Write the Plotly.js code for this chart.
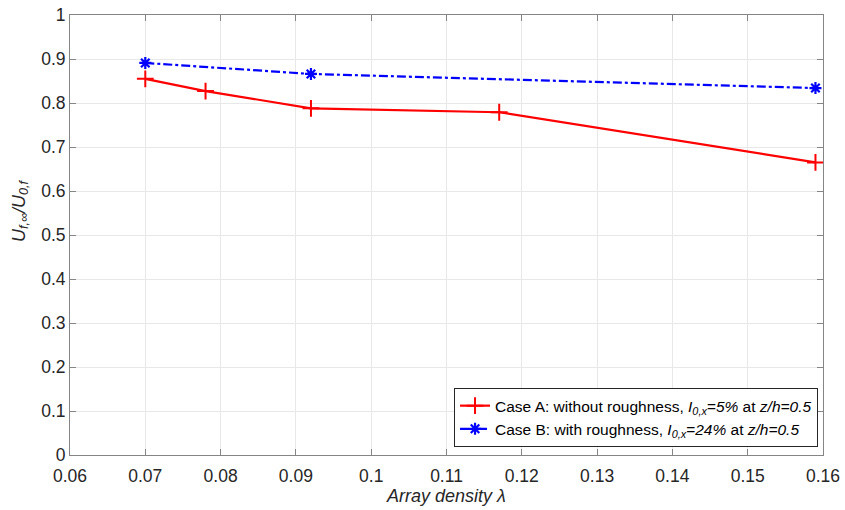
<!DOCTYPE html>
<html>
<head>
<meta charset="utf-8">
<script src="https://cdn.plot.ly/plotly-3.0.1.min.js"></script>
<style>html,body{margin:0;padding:0;background:#fff;}#chart{width:845px;height:510px;}</style>
</head>
<body>
<div id="chart"></div>
<script>
const xA = [0.070, 0.078, 0.092, 0.117, 0.159];
const yA = [0.855, 0.827, 0.788, 0.779, 0.665];
const xB = [0.070, 0.092, 0.159];
const yB = [0.891, 0.866, 0.834];
const nameA = 'Case A: without roughness, <i>I</i><sub><i>0,x</i></sub><i>=5%</i> at <i>z/h=0.5</i>';
const nameB = 'Case B: with roughness, <i>I</i><sub><i>0,x</i></sub><i>=24%</i> at <i>z/h=0.5</i>';
const xTitle = '<i>Array density λ</i>';
const yTitle = '<i>U</i><sub><i>f,∞</i></sub><i>/U</i><sub><i>0,f</i></sub>';
const xTicks = [0.06,0.07,0.08,0.09,0.1,0.11,0.12,0.13,0.14,0.15,0.16];
const xTickText = ['0.06','0.07','0.08','0.09','0.1','0.11','0.12','0.13','0.14','0.15','0.16'];
const yTicks = [0,0.1,0.2,0.3,0.4,0.5,0.6,0.7,0.8,0.9,1];
const yTickText = ['0','0.1','0.2','0.3','0.4','0.5','0.6','0.7','0.8','0.9','1'];

const FONT = 'Liberation Sans, Arial, sans-serif';
const traces = [
  {x: xA, y: yA, name: nameA, mode: 'lines+markers',
   line: {color: '#ff0000', width: 2.2},
   marker: {symbol: 'cross-thin-open', size: 12, color: '#ff0000', line: {color: '#ff0000', width: 2}}},
  {x: xB, y: yB, name: nameB, mode: 'lines+markers',
   line: {color: '#0000ff', width: 2.2, dash: 'dashdot'},
   marker: {symbol: 'asterisk-open', size: 10, color: '#0000ff', line: {color: '#0000ff', width: 2.2}}}
];
const axisCommon = {
  showline: true, linecolor: '#858585', linewidth: 1, mirror: 'ticks',
  ticks: 'inside', ticklen: 6, tickcolor: '#858585',
  showgrid: true, gridcolor: '#e8e8e8', gridwidth: 1, zeroline: false,
  tickfont: {family: FONT, size: 17.5, color: '#262626'}
};
const layout = {
  width: 845, height: 510,
  margin: {l: 70, r: 22, t: 15, b: 55},
  paper_bgcolor: '#fff', plot_bgcolor: '#fff',
  showlegend: true,
  xaxis: Object.assign({}, axisCommon, {
    range: [0.06, 0.16], tickmode: 'array', tickvals: xTicks, ticktext: xTickText,
    ticklabelstandoff: 5,
    title: {text: xTitle, standoff: 4, font: {family: FONT, size: 18, color: '#262626'}}
  }),
  yaxis: Object.assign({}, axisCommon, {
    range: [0, 1], tickmode: 'array', tickvals: yTicks, ticktext: yTickText
  }),
  annotations: [{
    text: yTitle, textangle: -90, xref: 'paper', yref: 'paper',
    x: -0.066, y: 0.555, xanchor: 'center', yanchor: 'middle', showarrow: false,
    font: {family: FONT, size: 18, color: '#262626'}
  }],
  legend: {
    x: 0.9934, y: 0.018, xanchor: 'right', yanchor: 'bottom',
    bgcolor: '#fff', bordercolor: '#262626', borderwidth: 1,
    font: {family: FONT, size: 15.5, color: '#000'},
    tracegroupgap: 0, itemwidth: 30
  }
};
Plotly.newPlot('chart', traces, layout, {displayModeBar: false, staticPlot: true});
</script>
</body>
</html>
